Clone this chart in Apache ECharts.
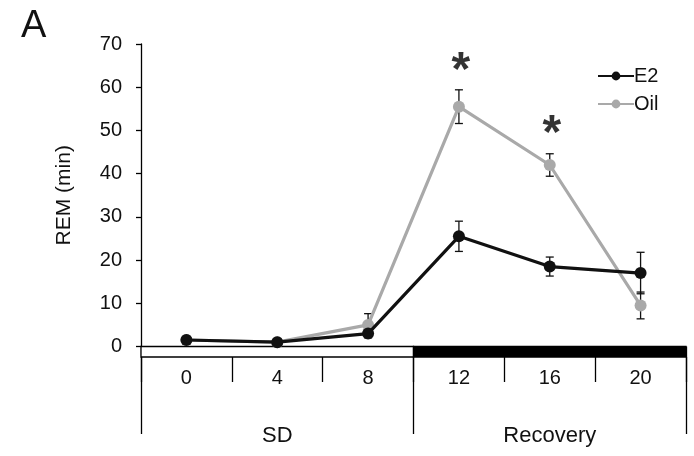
<!DOCTYPE html>
<html>
<head>
<meta charset="utf-8">
<script src="https://cdn.jsdelivr.net/npm/echarts@6/dist/echarts.min.js"></script>
<style>
  html, body { margin: 0; padding: 0; background: #fff; }
  #chart { width: 694px; height: 456px; }
</style>
</head>
<body>
<div id="chart"></div>
<script>
// Time points (h) and phase groups
var timePoints = ['0', '4', '8', '12', '16', '20'];
var phases = ['SD', 'Recovery'];
var phaseLength = 3; // time points per phase

// REM sleep (min), mean and SEM
var e2Mean = [1.5, 1.0, 3.0, 25.5, 18.5, 17.0];
var e2Sem = [0.7, 0.5, 1.0, 3.5, 2.2, 4.8];
var oilMean = [1.5, 1.0, 5.0, 55.5, 42.0, 9.5];
var oilSem = [0.8, 0.8, 2.6, 3.9, 2.6, 3.1];

// Time points with a significant E2 vs Oil difference
var sigIndex = [3, 4];

var FONT = '"Liberation Sans", Arial, sans-serif';
var INK = '#111111';
var GREY = '#a9a9a9';

function errorData(mean, sem) {
  return mean.map(function (m, i) { return [i, m - sem[i], m + sem[i]]; });
}

function renderError(params, api) {
  var x = api.value(0);
  var lo = api.coord([x, api.value(1)]);
  var hi = api.coord([x, api.value(2)]);
  var cap = 4;
  var st = { stroke: INK, lineWidth: 1.3 };
  return {
    type: 'group',
    children: [
      { type: 'line', shape: { x1: lo[0], y1: lo[1], x2: hi[0], y2: hi[1] }, style: st },
      { type: 'line', shape: { x1: lo[0] - cap, y1: lo[1], x2: lo[0] + cap, y2: lo[1] }, style: st },
      { type: 'line', shape: { x1: hi[0] - cap, y1: hi[1], x2: hi[0] + cap, y2: hi[1] }, style: st }
    ]
  };
}

// Phase strip under the zero line: open box for SD, filled for Recovery
var phaseData = phases.map(function (p, i) {
  return [i * phaseLength, (i + 1) * phaseLength - 1, i];
});

function renderPhase(params, api) {
  var bw = api.size([1, 0])[0];
  var a = api.coord([api.value(0), 0]);
  var b = api.coord([api.value(1), 0]);
  var filled = api.value(2) === 1;
  return {
    type: 'rect',
    shape: { x: a[0] - bw / 2, y: a[1], width: b[0] - a[0] + bw, height: 10.5 },
    style: { fill: filled ? '#000' : '#fff', stroke: '#000', lineWidth: 1.3 }
  };
}

var sigData = sigIndex.map(function (i) { return [i, oilMean[i] + oilSem[i]]; });

var chart = echarts.init(document.getElementById('chart'));
chart.setOption({
  animation: false,
  textStyle: { fontFamily: FONT },
  graphic: [{
    type: 'text', left: 21, top: 8,
    style: { text: 'A', fontSize: 38, fontFamily: FONT, fill: '#111' }
  }],
  legend: {
    orient: 'vertical',
    left: 592, top: 61,
    itemWidth: 36, itemHeight: 11, itemGap: 8,
    textStyle: { fontSize: 20, color: INK, fontFamily: FONT, padding: [0, 0, 0, -5] },
    data: ['E2', 'Oil']
  },
  grid: { left: 141, right: 8, top: 44, bottom: 109.5 },
  xAxis: [{
    type: 'category',
    data: timePoints,
    position: 'bottom',
    offset: 10.5,
    boundaryGap: true,
    axisLine: { show: false },
    axisTick: { show: true, length: 35.5, lineStyle: { color: '#000', width: 1.3 } },
    axisLabel: { margin: 11, fontSize: 20, color: INK, fontFamily: FONT }
  }, {
    type: 'category',
    data: phases,
    position: 'bottom',
    offset: 10.5,
    boundaryGap: true,
    axisLine: { show: false },
    axisTick: { show: true, length: 77, lineStyle: { color: '#000', width: 1.3 } },
    axisLabel: { margin: 68, fontSize: 22, color: INK, fontFamily: FONT }
  }],
  yAxis: {
    type: 'value',
    min: 0, max: 70, interval: 10,
    name: 'REM (min)',
    nameLocation: 'middle',
    nameGap: 66,
    nameRotate: 90,
    nameTextStyle: { fontSize: 21, color: INK, fontFamily: FONT, padding: [0, 0, 0, 0] },
    axisLine: { show: true, lineStyle: { color: '#000', width: 1.3 } },
    axisTick: { show: true, length: 5, lineStyle: { color: '#000', width: 1.3 } },
    axisLabel: { margin: 19, fontSize: 20, color: INK, fontFamily: FONT, padding: [5, 0, 0, 0] },
    splitLine: { show: false }
  },
  series: [{
    type: 'custom',
    name: 'phase',
    renderItem: renderPhase,
    data: phaseData,
    clip: false,
    silent: true,
    z: 1
  }, {
    type: 'custom',
    name: 'E2 sem',
    renderItem: renderError,
    data: errorData(e2Mean, e2Sem),
    silent: true,
    z: 2
  }, {
    type: 'custom',
    name: 'Oil sem',
    renderItem: renderError,
    data: errorData(oilMean, oilSem),
    silent: true,
    z: 2
  }, {
    type: 'line',
    name: 'E2',
    data: e2Mean,
    symbol: 'circle',
    symbolSize: 12,
    itemStyle: { color: INK },
    lineStyle: { color: INK, width: 3.2 },
    z: 4
  }, {
    type: 'line',
    name: 'Oil',
    data: oilMean,
    symbol: 'circle',
    symbolSize: 12,
    itemStyle: { color: GREY },
    lineStyle: { color: GREY, width: 3.2 },
    z: 3
  }, {
    type: 'scatter',
    name: 'sig',
    data: sigData,
    symbol: 'circle',
    symbolSize: 1,
    itemStyle: { color: 'rgba(0,0,0,0)' },
    silent: true,
    z: 5,
    label: {
      show: true,
      position: 'top',
      distance: 0,
      offset: [2, 6],
      formatter: '*',
      fontSize: 48,
      fontWeight: 'bold',
      color: '#000',
      fontFamily: FONT
    }
  }]
});
</script>
</body>
</html>
